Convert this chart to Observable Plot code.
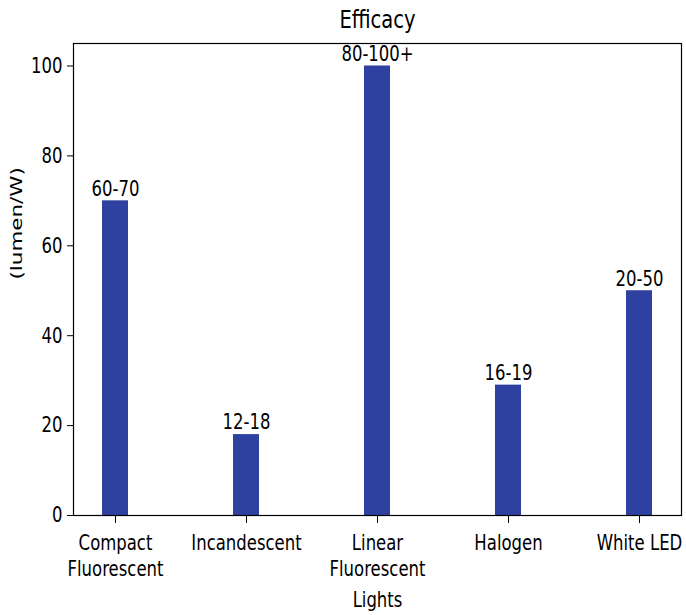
<!DOCTYPE html>
<html>
<head>
<meta charset="utf-8">
<script src="https://cdn.jsdelivr.net/npm/d3@7"></script>
<script src="https://cdn.jsdelivr.net/npm/@observablehq/plot@0.6"></script>
<style>
  html, body { margin: 0; padding: 0; background: #fff; }
  #chart svg { display: block; }
</style>
</head>
<body>
<div id="chart"></div>
<script>
const categories = ["Compact Fluorescent", "Incandescent", "Linear Fluorescent", "Halogen", "White LED"];
const tickLabels = ["Compact\nFluorescent", "Incandescent", "Linear\nFluorescent", "Halogen", "White LED"];
const efficacy = [70, 18, 100, 29, 50];
const barLabels = ["60-70", "12-18", "80-100+", "16-19", "20-50"];
const yTicks = [0, 20, 40, 60, 80, 100];

const data = categories.map((c, i) => ({light: c, value: efficacy[i], label: barLabels[i]}));
const labelOf = new Map(categories.map((c, i) => [c, tickLabels[i]]));
const font = "'DejaVu Sans', 'Liberation Sans', sans-serif";
const stretch = 1.3; // the reference text is stretched vertically

const chart = Plot.plot({
  width: 686,
  height: 615,
  marginLeft: 73,
  marginRight: 5,
  marginTop: 43,
  marginBottom: 100,
  style: {fontFamily: font, fontSize: "16.5px", background: "white", color: "black"},
  x: {domain: categories, paddingInner: 0.8, paddingOuter: 0.21, label: null},
  y: {domain: [0, 105], label: null},
  marks: [
    Plot.barY(data, {x: "light", y: "value", fill: "#2f41a0"}),
    Plot.text(data, {x: "light", y: "value", text: "label", lineAnchor: "middle", dy: -12, fontSize: 16.5, fill: "black"}),
    Plot.frame({stroke: "black", strokeWidth: 1.2}),
    Plot.axisX({tickSize: 8, tickPadding: 8, tickFormat: d => labelOf.get(d), fontSize: 16.5, lineHeight: 1.2, label: null}),
    Plot.axisY({ticks: yTicks, tickSize: 6, tickPadding: 5, fontSize: 16.5, label: null}),
    Plot.text(["Efficacy"], {frameAnchor: "top", lineAnchor: "middle", dy: -24, fontSize: 19.5, fill: "black"}),
    Plot.text(["Lights"], {frameAnchor: "bottom", lineAnchor: "middle", dy: 85, fontSize: 16.5, fill: "black"}),
    Plot.text(["(lumen/W)"], {frameAnchor: "left", lineAnchor: "middle", dx: -57, rotate: -90, fontSize: 16.5, fill: "black"})
  ]
});

// stretch every text vertically about its own anchor point
d3.select(chart).selectAll("text").each(function() {
  const t = this.transform && this.transform.baseVal.consolidate();
  const ay = t ? t.matrix.f : (+this.getAttribute("y") || 0);
  const prev = this.getAttribute("transform") || "";
  this.setAttribute("transform", `translate(0,${ay}) scale(1,${stretch}) translate(0,${-ay}) ${prev}`);
});

document.getElementById("chart").appendChild(chart);
</script>
</body>
</html>
